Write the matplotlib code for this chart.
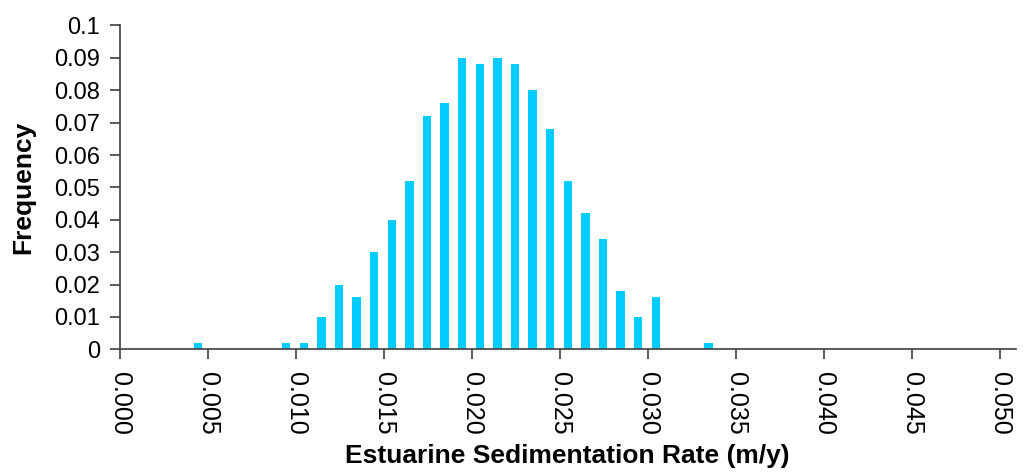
import matplotlib
matplotlib.use("Agg")
import matplotlib.pyplot as plt
import numpy as np

# Bin centres (m/y) and relative frequencies
rates = [0.00445, 0.00945, 0.01045, 0.01145, 0.01245, 0.01345, 0.01445, 0.01545,
         0.01645, 0.01745, 0.01845, 0.01945, 0.02045, 0.02145, 0.02245, 0.02345,
         0.02445, 0.02545, 0.02645, 0.02745, 0.02845, 0.02945, 0.03045, 0.03345]
freqs = [0.002, 0.002, 0.002, 0.010, 0.020, 0.016, 0.030, 0.040,
         0.052, 0.072, 0.076, 0.090, 0.088, 0.090, 0.088, 0.080,
         0.068, 0.052, 0.042, 0.034, 0.018, 0.010, 0.016, 0.002]
x_ticks = [0.000, 0.005, 0.010, 0.015, 0.020, 0.025, 0.030, 0.035, 0.040, 0.045, 0.050]
x_tick_labels = ["0.000", "0.005", "0.010", "0.015", "0.020", "0.025",
                 "0.030", "0.035", "0.040", "0.045", "0.050"]
y_ticks = [0, 0.01, 0.02, 0.03, 0.04, 0.05, 0.06, 0.07, 0.08, 0.09, 0.1]
y_tick_labels = ["0", "0.01", "0.02", "0.03", "0.04", "0.05", "0.06", "0.07",
                 "0.08", "0.09", "0.1"]

plt.rcParams['font.family'] = ['Liberation Sans', 'DejaVu Sans']

fig = plt.figure(figsize=(10.24, 4.72), dpi=100)
ax = fig.add_axes([0.117, 0.26, 0.875, 0.686])

ax.bar(rates, freqs, width=0.00048, color="#00CCFF", edgecolor="none")

ax.set_xlim(0, 0.0509)
ax.set_ylim(0, 0.1)
ax.set_xticks(x_ticks)
ax.set_xticklabels(x_tick_labels, rotation=-90, fontsize=18)
ax.set_yticks(y_ticks)
ax.set_yticklabels(y_tick_labels, fontsize=17)

for s in ["top", "right"]:
    ax.spines[s].set_visible(False)
for s in ["left", "bottom"]:
    ax.spines[s].set_color("#404040")
    ax.spines[s].set_linewidth(1.2)
ax.tick_params(axis="both", direction="out", length=7, width=1.2, color="#404040")
ax.tick_params(axis="x", pad=9)
ax.tick_params(axis="y", pad=7)

ax.set_xlabel("Estuarine Sedimentation Rate (m/y)", fontsize=19, fontweight="bold", labelpad=7)
ax.set_ylabel("Frequency", fontsize=19, fontweight="bold", labelpad=14)

fig.savefig("out.png", dpi=100)
